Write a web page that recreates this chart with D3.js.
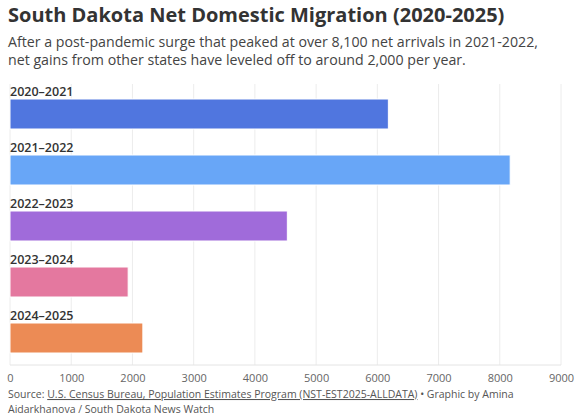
<!DOCTYPE html>
<html lang="en">
<head>
<meta charset="UTF-8" />
<title>South Dakota Net Domestic Migration</title>
<script src="https://d3js.org/d3.v7.min.js"></script>
<style>
  body { margin: 0; background: #fff; font-family: "Open Sans", "Noto Sans", sans-serif; }
</style>
</head>
<body>
<div id="chart"></div>
<script>
var periods = ["2020\u20132021", "2021\u20132022", "2022\u20132023", "2023\u20132024", "2024\u20132025"];
var netMigration = [6180, 8170, 4530, 1930, 2170];
var barColors = ["#5076df", "#68a6f7", "#a06bda", "#e4789f", "#ec8b55"];
var xTicks = [0, 1000, 2000, 3000, 4000, 5000, 6000, 7000, 8000, 9000];

var w = 587, h = 420;
var svg = d3.select("#chart").append("svg").attr("width", w).attr("height", h);

svg.append("text").attr("x", 8).attr("y", 22)
    .style("font-size", "20px").style("font-weight", "700").style("fill", "#333")
    .text("South Dakota Net Domestic Migration (2020-2025)");
var sub = ["After a post-pandemic surge that peaked at over 8,100 net arrivals in 2021-2022,",
           "net gains from other states have leveled off to around 2,000 per year."];
svg.selectAll(".sub").data(sub).enter().append("text")
    .attr("x", 8).attr("y", function (d, i) { return 47 + i * 18; })
    .style("font-size", "14.2px").style("fill", "#444").text(function (d) { return d; });

var xScale = d3.scaleLinear().domain([0, 9000]).range([10, 561]);
var rowScale = d3.scaleBand().domain(periods).range([82, 362]).paddingInner(0);

// gridlines
svg.selectAll(".grid").data(xTicks).enter().append("line")
    .attr("x1", function (d) { return xScale(d); }).attr("x2", function (d) { return xScale(d); })
    .attr("y1", 84).attr("y2", 365).style("stroke", "#ececec");

svg.append("line").attr("x1", 10).attr("x2", 561).attr("y1", 365).attr("y2", 365).style("stroke", "#e4e4e4");

svg.selectAll(".bar").data(periods).enter().append("rect")
    .attr("x", xScale(0))
    .attr("y", function (d) { return rowScale(d) + 17; })
    .attr("width", function (d, i) { return xScale(netMigration[i]) - xScale(0); })
    .attr("height", 30)
    .style("fill", function (d, i) { return barColors[i]; })
    .style("stroke", "#fff").style("stroke-width", 1);

svg.selectAll(".lbl").data(periods).enter().append("text")
    .attr("x", 10).attr("y", function (d) { return rowScale(d) + 14; })
    .style("font-size", "12.5px").style("font-weight", "600").style("fill", "#333")
    .text(function (d) { return d; });

var axis = svg.append("g").attr("transform", "translate(0,365)")
    .call(d3.axisBottom(xScale).tickValues(xTicks).tickFormat(d3.format("d")).tickSize(0).tickPadding(9));
axis.select(".domain").remove();
axis.selectAll("text").style("font-size", "11px").style("fill", "#666").style("font-family", "'Open Sans', sans-serif");

var foot = svg.append("text").attr("x", 8).attr("y", 398).style("font-size", "10.5px").style("fill", "#555");
foot.append("tspan").text("Source: ");
foot.append("tspan").style("text-decoration", "underline").text("U.S. Census Bureau, Population Estimates Program (NST-EST2025-ALLDATA)");
foot.append("tspan").text(" \u2022 Graphic by Amina");
svg.append("text").attr("x", 8).attr("y", 413).style("font-size", "10.5px").style("fill", "#555")
    .text("Aidarkhanova / South Dakota News Watch");
</script>
</body>
</html>
